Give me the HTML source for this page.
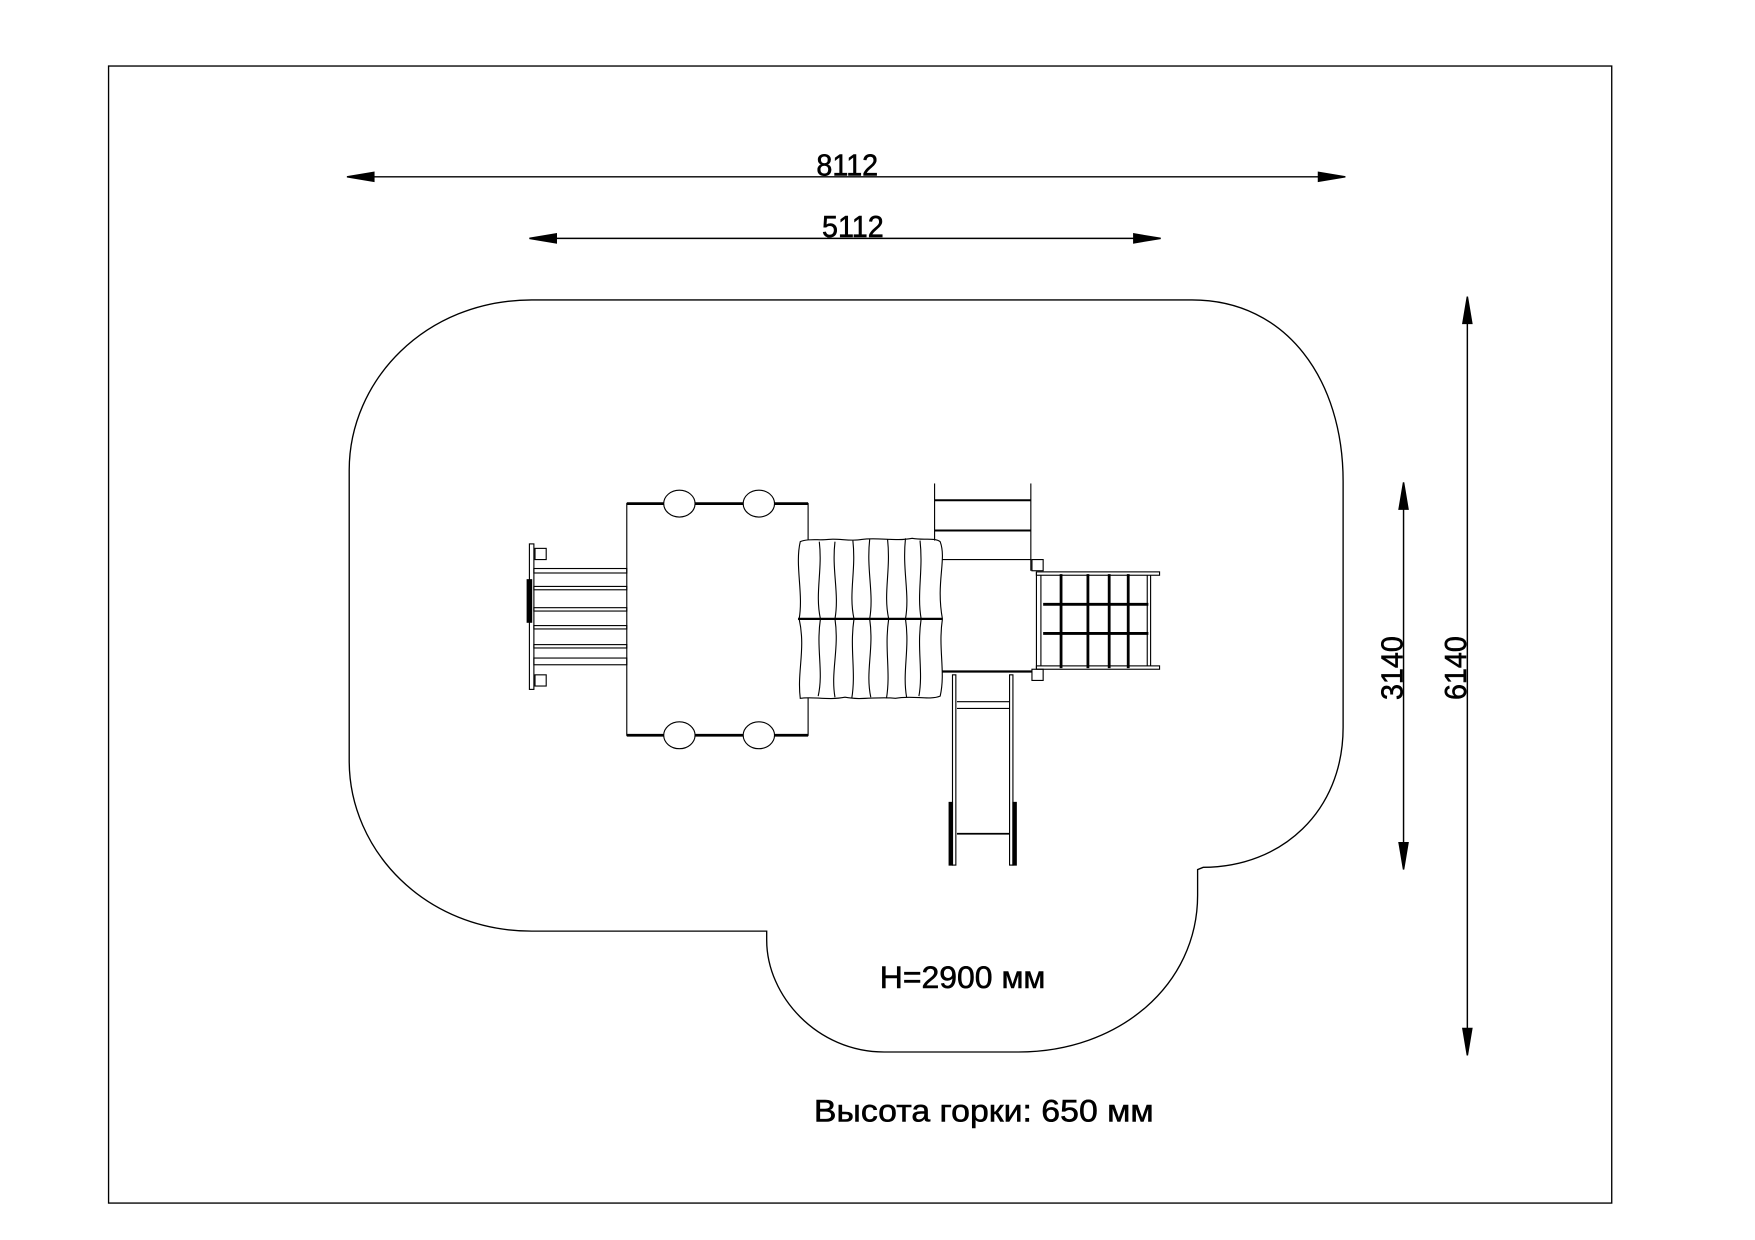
<!DOCTYPE html>
<html><head><meta charset="utf-8"><style>
html,body{margin:0;padding:0;background:#fff;}
svg{display:block;}
text{font-family:"Liberation Sans",sans-serif;fill:#000;stroke:#000;stroke-width:0.5;}
</style></head><body>
<svg width="1755" height="1240" viewBox="0 0 1568 1108" preserveAspectRatio="none" xmlns="http://www.w3.org/2000/svg">
<rect x="97" y="59" width="1343" height="1016" fill="none" stroke="#000" stroke-width="1.2"/>
<g stroke="#000" stroke-width="1.3" fill="#000">
<line x1="320" y1="158" x2="1192" y2="158"/>
<polygon points="310,158 334,154 334,162"/><polygon points="1202,158 1178,154 1178,162"/>
<line x1="483" y1="213" x2="1027" y2="213"/>
<polygon points="473,213 497,209 497,217"/><polygon points="1037,213 1013,209 1013,217"/>
<line x1="1311" y1="275" x2="1311" y2="933"/>
<polygon points="1311,265 1307,289 1315,289"/><polygon points="1311,943 1307,919 1315,919"/>
<line x1="1254" y1="441" x2="1254" y2="767"/>
<polygon points="1254,431 1250,455 1258,455"/><polygon points="1254,777 1250,753 1258,753"/>
</g>
<text x="757" y="157" font-size="27" text-anchor="middle" transform="translate(757 0) scale(0.95 1) translate(-757 0)">8112</text>
<text x="762" y="212" font-size="27" text-anchor="middle" transform="translate(762 0) scale(0.95 1) translate(-762 0)">5112</text>
<text font-size="27" text-anchor="middle" transform="translate(1253 597) rotate(-90) scale(0.95 1)">3140</text>
<text font-size="27" text-anchor="middle" transform="translate(1310 597) rotate(-90) scale(0.95 1)">6140</text>
<path d="M475,268 L1065,268 C1150,268 1200,340 1200,430 L1200,650 C1200,725 1145,775 1075,775 L1070,777 L1070,800 C1070,880 1000,940 910,940 L790,940 C730,940 685,890 685,840 L685,832 L475,832 C380,832 312,760 312,680 L312,420 C312,340 380,268 475,268 Z" fill="none" stroke="#000" stroke-width="1.2"/>
<text x="860" y="883" font-size="28" text-anchor="middle" transform="translate(860 0) scale(1.02 1) translate(-860 0)">H=2900 мм</text>
<text x="879" y="1002" font-size="28" text-anchor="middle" transform="translate(879 0) scale(1.08 1) translate(-879 0)">Высота горки: 650 мм</text>
<g fill="none" stroke="#000" stroke-width="1">
<rect x="560" y="450" width="162" height="207"/>
<line x1="560" y1="450" x2="722" y2="450" stroke-width="2.5"/>
<line x1="560" y1="657" x2="722" y2="657" stroke-width="2.5"/>
<ellipse cx="607" cy="450" rx="14" ry="12" fill="#fff"/><ellipse cx="678" cy="450" rx="14" ry="12" fill="#fff"/>
<ellipse cx="607" cy="657" rx="14" ry="12" fill="#fff"/><ellipse cx="678" cy="657" rx="14" ry="12" fill="#fff"/>
<rect x="473" y="486" width="4" height="130"/>
<rect x="471" y="518" width="4" height="38" fill="#000"/>
<rect x="478" y="490" width="10" height="10"/><rect x="478" y="603" width="10" height="10"/>
<rect x="477" y="508" width="83" height="4"/><rect x="477" y="524" width="83" height="3"/>
<rect x="477" y="543" width="83" height="3"/><rect x="477" y="559" width="83" height="3"/>
<rect x="477" y="576" width="83" height="3"/><rect x="477" y="588" width="83" height="6"/>
<path d="M715,484 C722,481 732,483 740,482 C750,481 760,484 770,482 C785,480 800,484 815,481 C825,483 835,480 840,484 C846,500 836,520 842,553 C838,580 845,600 840,622 C830,626 815,621 800,624 C785,622 770,626 755,623 C740,626 725,622 715,624 C712,600 720,580 714,553 C718,530 710,505 715,484 Z" fill="#fff"/>
<line x1="713" y1="553" x2="842" y2="553" stroke-width="2"/>
<path d="M732,484 C735,510 728,530 733,553 C729,580 736,600 731,622"/>
<path d="M746,484 C743,510 750,530 746,553 C750,580 742,600 746,623"/>
<path d="M762,483 C765,510 758,530 763,553 C759,580 765,600 761,624"/>
<path d="M777,482 C774,510 781,530 777,553 C781,580 773,600 778,623"/>
<path d="M793,482 C796,510 789,530 794,553 C790,580 796,600 792,624"/>
<path d="M809,481 C806,510 813,530 809,553 C813,580 806,600 810,623"/>
<path d="M822,483 C825,510 819,530 823,553 C819,580 825,600 821,622"/>
<line x1="835" y1="432" x2="835" y2="483"/><line x1="921" y1="432" x2="921" y2="510"/>
<line x1="835" y1="447" x2="921" y2="447" stroke-width="1.8"/>
<line x1="835" y1="474" x2="921" y2="474" stroke-width="1.8"/>
<line x1="842" y1="500" x2="921" y2="500"/>
<rect x="922" y="500" width="10" height="10"/><rect x="922" y="598" width="10" height="10"/>
<line x1="842" y1="600" x2="922" y2="600" stroke-width="2"/>
<rect x="926" y="511" width="110" height="3"/><rect x="926" y="595" width="110" height="3"/>
<line x1="926" y1="511" x2="926" y2="598"/><line x1="930" y1="514" x2="930" y2="595"/>
<line x1="1025" y1="514" x2="1025" y2="595"/><line x1="1028" y1="514" x2="1028" y2="595"/>
<g stroke-width="2.5">
<line x1="948" y1="513" x2="948" y2="597"/><line x1="972" y1="513" x2="972" y2="597"/>
<line x1="991" y1="513" x2="991" y2="597"/><line x1="1008" y1="513" x2="1008" y2="597"/>
<line x1="932" y1="540" x2="1026" y2="540"/><line x1="932" y1="566" x2="1026" y2="566"/>
</g>
<rect x="851" y="603" width="3" height="170"/><rect x="902" y="603" width="3" height="170"/>
<line x1="855" y1="627" x2="902" y2="627"/><line x1="855" y1="633" x2="902" y2="633"/>
<line x1="855" y1="745" x2="902" y2="745" stroke-width="1.5"/>
<rect x="848" y="717" width="3" height="56" fill="#000"/><rect x="905" y="717" width="3" height="56" fill="#000"/>
</g>
</svg>
</body></html>
